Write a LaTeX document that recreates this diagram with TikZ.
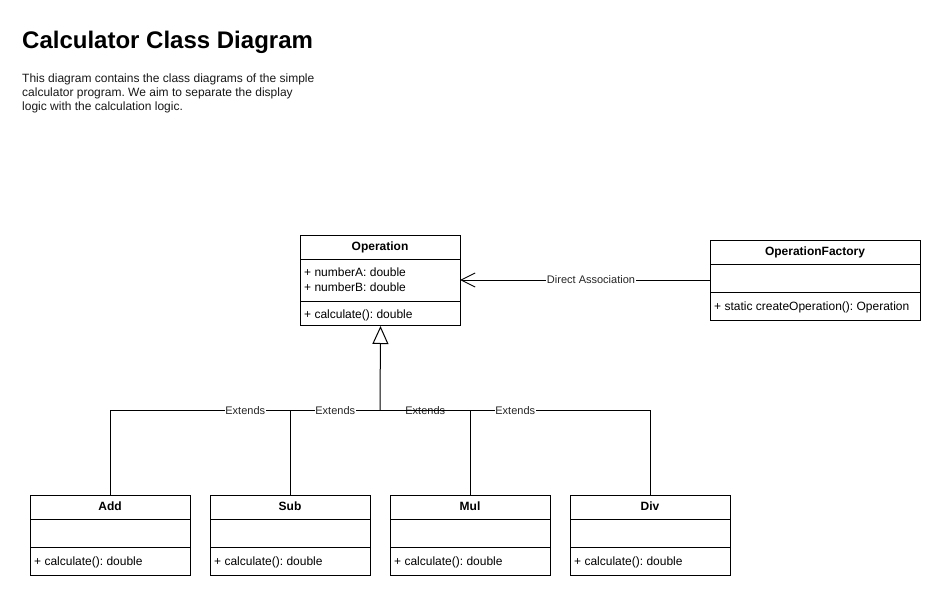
\documentclass[tikz,border=0pt]{standalone}
\usepackage{fontspec}
\setmainfont{Liberation Sans}
\usetikzlibrary{arrows.meta}
\frenchspacing
\tikzset{
  comp/.style={draw, line width=1pt, anchor=north west, inner sep=0pt, minimum width=#1},
  hdr/.style={font=\fontsize{12}{14}\selectfont\bfseries, anchor=base, inner sep=0pt},
  mem/.style={font=\fontsize{12}{14}\selectfont, anchor=base west, inner sep=0pt},
  desc/.style={font=\fontsize{12}{14}\selectfont, anchor=base west, inner sep=0pt, text=black!90},
  elab/.style={font=\fontsize{11}{13}\selectfont, fill=white, inner sep=0.5pt, text=black!85},
  conn/.style={line width=1pt},
  inherit/.style={conn, -{Triangle[length=18pt, width=16pt, fill=white, line width=1pt]}},
  assoc/.style={conn, -{Straight Barb[length=14pt, width=14pt, line width=1pt]}}
}

\begin{document}

\begin{tikzpicture}[x=1pt, y=-1pt]
\useasboundingbox (0,0) rectangle (941,596);
\fill[white] (0,0) rectangle (941,596);

% Title and description
\node[font=\fontsize{24}{28}\selectfont\bfseries, anchor=base west, inner sep=0pt] (title) at (22,48.5) {Calculator Class Diagram};
\node[desc] (d1) at (22,82.5) {This diagram contains the class diagrams of the simple};
\node[desc] (d2) at (22,96.5) {calculator program. We aim to separate the display};
\node[desc] (d3) at (22,110.5) {logic with the calculation logic.};

% Operation
\node[comp=160pt, minimum height=24pt] (opH) at (300,235) {};
\node[comp=160pt, minimum height=42pt] (opA) at (300,259) {};
\node[comp=160pt, minimum height=24pt] (opM) at (300,301) {};
\node[hdr] (opT) at (380,250) {Operation};
\node[mem] (opA1) at (304,276.5) {+ numberA: double};
\node[mem] (opA2) at (304,291.5) {+ numberB: double};
\node[mem] (opM1) at (304,318.5) {+ calculate(): double};

% OperationFactory
\node[comp=210pt, minimum height=24pt] (ofH) at (710,240) {};
\node[comp=210pt, minimum height=28pt] (ofA) at (710,264) {};
\node[comp=210pt, minimum height=28pt] (ofM) at (710,292) {};
\node[hdr] (ofT) at (815,255) {OperationFactory};
\node[mem] (ofM1) at (714,310) {+ static createOperation(): Operation};

% Subclasses
\foreach \n/\t/\x in {add/Add/30, sub/Sub/210, mul/Mul/390, div/Div/570} {
  \node[comp=160pt, minimum height=24pt] (\n H) at (\x,495) {};
  \node[comp=160pt, minimum height=28pt] (\n A) at (\x,519) {};
  \node[comp=160pt, minimum height=28pt] (\n M) at (\x,547) {};
  \node[hdr] (\n T) at (\x+80,510) {\t};
  \node[mem] (\n M1) at (\x+4,565.5) {+ calculate(): double};
}

% Association
\coordinate (ofL) at (710,280);
\coordinate (opR) at (460,280);
\draw[assoc] (ofL) -- node[elab, pos=0.476] (alab) {Direct Association} (opR);

% Inheritance
\coordinate (j) at (380,410);
\draw[inherit] (j) -- (opM.south);
\draw[conn] (addH.north) |- node[elab, pos=0.75, yshift=-0.5pt] (l1) {Extends} (j);
\draw[conn] (subH.north) |- node[elab, pos=0.75, yshift=-0.5pt] (l2) {Extends} (j);
\draw[conn] (mulH.north) |- node[elab, pos=0.75, yshift=-0.5pt] (l3) {Extends} (j);
\draw[conn] (divH.north) |- node[elab, pos=0.75, yshift=-0.5pt] (l4) {Extends} (j);
\end{tikzpicture}

\end{document}
